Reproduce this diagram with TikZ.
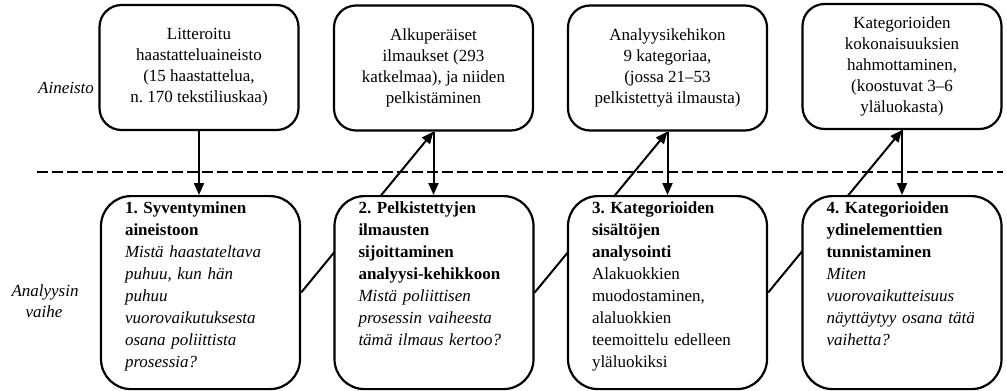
\documentclass[tikz,border=0pt]{standalone}
\usepackage{fontspec}
\setmainfont{Liberation Serif}
\usepackage{tikz}
\usetikzlibrary{arrows.meta}
\usetikzlibrary{backgrounds}
\frenchspacing

\begin{document}
\begin{tikzpicture}[x=1pt,y=-1pt,
  databox/.style={draw=black, line width=2.2pt, rounded corners=22pt, fill=white, minimum width=199pt, minimum height=125pt, align=center, inner sep=2pt, font=\fontsize{17}{21}\selectfont},
  stagebox/.style={draw=black, line width=2.2pt, rounded corners=30pt, fill=white, anchor=north, inner xsep=24pt, inner ysep=0pt, text width=151pt, text height=17pt, text depth=176pt, align=left, font=\fontsize{17}{22}\selectfont},
  flow/.style={line width=2pt, -{Triangle[width=10pt,length=12pt]}},
  divider/.style={line width=2pt, dash pattern=on 11pt off 4pt},
  rowlabel/.style={font=\fontsize{17}{21}\selectfont\itshape, align=left}]
\useasboundingbox (0,0) rectangle (1007,391);

\node[databox] (litt) at (199,67.5) {Litteroitu\\haastatteluaineisto\\(15 haastattelua,\\n. 170 tekstiliuskaa)};
\node[databox] (alku) at (433.5,68) {Alkuperäiset\\ilmaukset (293\\katkelmaa), ja niiden\\pelkistäminen};
\node[databox] (kehys) at (667.5,68) {Analyysikehikon\\9 kategoriaa,\\(jossa 21–53\\pelkistettyä ilmausta)};
\node[databox] (kokon) at (902,66.5) {Kategorioiden\\kokonaisuuksien\\hahmottaminen,\\(koostuvat 3–6\\yläluokasta)};

\node[stagebox] (vaihe1) at (200.5,195) {\textbf{1. Syventyminen}\\\textbf{aineistoon}\\\textit{Mistä haastateltava}\\\textit{puhuu, kun hän}\\\textit{puhuu}\\\textit{vuorovaikutuksesta}\\\textit{osana poliittista}\\\textit{prosessia?}};
\node[stagebox] (vaihe2) at (434,195) {\textbf{2. Pelkistettyjen}\\\textbf{ilmausten}\\\textbf{sijoittaminen}\\\textbf{analyysi-kehikkoon}\\\textit{Mistä poliittisen}\\\textit{prosessin vaiheesta}\\\textit{tämä ilmaus kertoo?}};
\node[stagebox] (vaihe3) at (667.5,195) {\textbf{3. Kategorioiden}\\\textbf{sisältöjen}\\\textbf{analysointi}\\Alakuokkien\\muodostaminen,\\alaluokkien\\teemoittelu edelleen\\yläluokiksi};
\node[stagebox] (vaihe4) at (902,195) {\textbf{4. Kategorioiden}\\\textbf{ydinelementtien}\\\textbf{tunnistaminen}\\\textit{Miten}\\\textit{vuorovaikutteisuus}\\\textit{näyttäytyy osana tätä}\\\textit{vaihetta?}};

\node[rowlabel] (aineisto) at (66,88) {Aineisto};
\node[rowlabel, anchor=west] (analyysi) at (8,301) {Analyysin\\\hspace*{14pt}vaihe};

\coordinate (rajaL) at (37,172);
\coordinate (rajaR) at (1003,172);

\begin{scope}[on background layer]
\draw[divider] (rajaL) -- (rajaR);
\draw[flow] (litt.south) -- (litt.south |- vaihe1.north);
\draw[flow] (vaihe1.east) -- (alku.south);
\draw[flow] (alku.south) -- (alku.south |- vaihe2.north);
\draw[flow] (vaihe2.east) -- (kehys.south);
\draw[flow] (kehys.south) -- (kehys.south |- vaihe3.north);
\draw[flow] (vaihe3.east) -- (kokon.south);
\draw[flow] (kokon.south) -- (kokon.south |- vaihe4.north);
\end{scope}
\end{tikzpicture}
\end{document}
